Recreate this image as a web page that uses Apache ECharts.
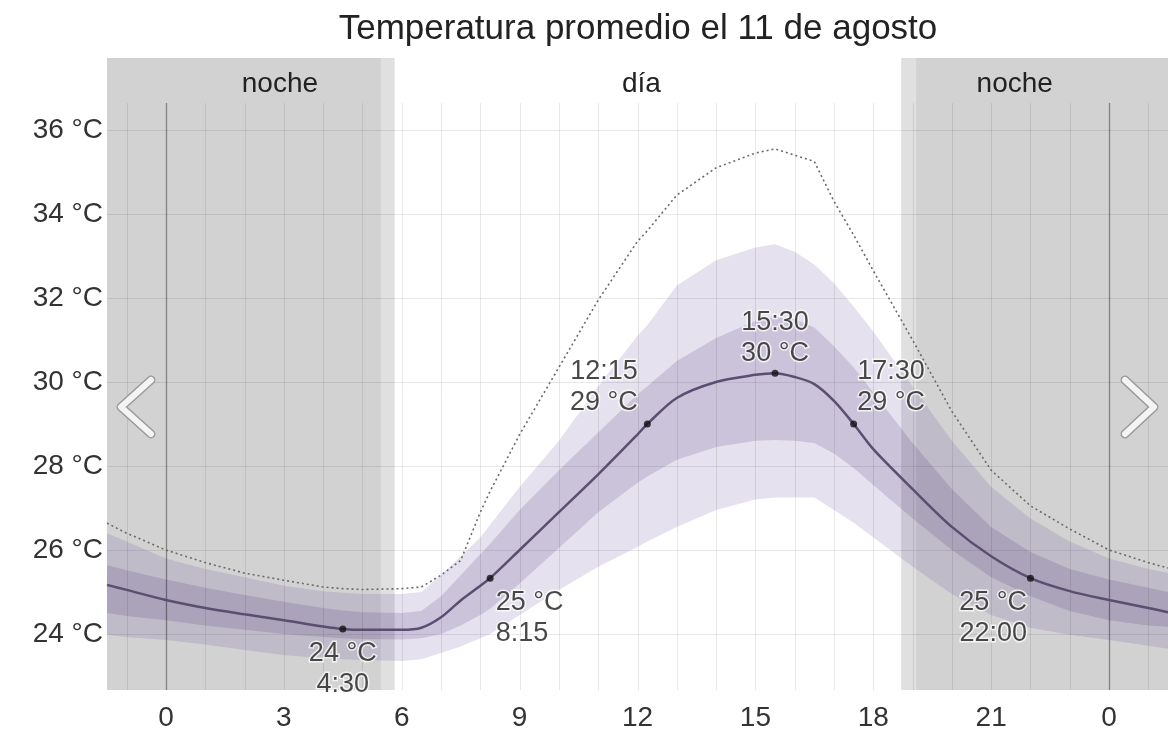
<!DOCTYPE html>
<html>
<head>
<meta charset="utf-8">
<script src="https://cdn.jsdelivr.net/npm/echarts@6/dist/echarts.min.js"></script>
<style>
html, body { margin: 0; padding: 0; background: #fff; }
#main { width: 1168px; height: 745px; }
</style>
</head>
<body>
<div id="main"></div>
<script>
// hour of day (values past 24 belong to the next day)
var hours   = [-1.5, -1, 0, 1, 2, 3, 4, 4.5, 5, 6, 6.5, 7, 7.5, 8, 8.25, 9, 10, 11, 12, 12.25, 13, 14, 15, 15.5, 16, 16.5, 17, 17.5, 18, 19, 20, 21, 22, 23, 24, 25, 25.5];
var median  = [25.17, 25.05, 24.81, 24.62, 24.47, 24.33, 24.18, 24.12, 24.1, 24.1, 24.15, 24.4, 24.8, 25.15, 25.33, 26.0, 26.9, 27.8, 28.75, 29.0, 29.62, 30.0, 30.17, 30.21, 30.12, 29.95, 29.55, 29.0, 28.4, 27.45, 26.55, 25.85, 25.33, 25.02, 24.81, 24.62, 24.52];
var p75     = [25.64, 25.52, 25.3, 25.1, 24.93, 24.77, 24.62, 24.56, 24.52, 24.5, 24.55, 24.9, 25.4, 25.9, 26.15, 26.95, 27.9, 28.8, 29.7, 29.9, 30.5, 31.05, 31.45, 31.55, 31.5, 31.3, 30.85, 30.35, 29.75, 28.55, 27.45, 26.55, 25.95, 25.55, 25.3, 25.1, 25.0];
var p25     = [24.5, 24.43, 24.33, 24.2, 24.1, 24.0, 23.93, 23.9, 23.88, 23.87, 23.9, 24.0, 24.2, 24.45, 24.6, 25.2, 26.05, 26.9, 27.6, 27.75, 28.15, 28.45, 28.6, 28.62, 28.6, 28.55, 28.3, 27.95, 27.55, 26.75, 26.0, 25.35, 24.9, 24.55, 24.33, 24.2, 24.17];
var p90     = [26.4, 26.2, 25.8, 25.55, 25.35, 25.15, 25.02, 24.98, 24.95, 24.95, 25.0, 25.4, 25.85, 26.3, 26.6, 27.5, 28.6, 29.9, 31.1, 31.35, 32.3, 32.9, 33.2, 33.28, 33.1, 32.8, 32.35, 31.8, 31.2, 29.9, 28.6, 27.5, 26.75, 26.2, 25.8, 25.55, 25.45];
var p10     = [23.98, 23.93, 23.86, 23.75, 23.62, 23.5, 23.42, 23.4, 23.38, 23.36, 23.4, 23.55, 23.7, 23.9, 24.0, 24.45, 25.05, 25.6, 26.07, 26.2, 26.55, 26.95, 27.2, 27.25, 27.25, 27.25, 26.95, 26.65, 26.3, 25.6, 24.95, 24.45, 24.15, 23.98, 23.86, 23.72, 23.65];
var dotted  = [26.64, 26.4, 26.0, 25.7, 25.45, 25.28, 25.12, 25.08, 25.06, 25.08, 25.12, 25.4, 25.75, 26.9, 27.4, 28.75, 30.35, 31.95, 33.35, 33.6, 34.45, 35.1, 35.45, 35.55, 35.4, 35.25, 34.3, 33.5, 32.65, 31.0, 29.3, 27.9, 27.05, 26.5, 26.0, 25.7, 25.57];

// labelled points on the median line
var markHours = [4.5, 8.25, 12.25, 15.5, 17.5, 22];
var markTemps = [24.12, 25.33, 29.0, 30.21, 29.0, 25.33];

// night / twilight spans (shade: 0 = night, 1 = twilight)
var shadeStart = [-1.5, 5.47, 18.71, 19.09];
var shadeEnd   = [5.47, 5.82, 19.09, 25.5];
var shadeKind  = [0, 1, 1, 0];

var periodNames = ['noche', 'día', 'noche'];
var periodHours = [2.9, 12.1, 21.6];

var gridHours = [-1, 0, 1, 2, 3, 4, 5, 6, 7, 8, 9, 10, 11, 12, 13, 14, 15, 16, 17, 18, 19, 20, 21, 22, 23, 24, 25];
var midnightHours = [0, 24];
var xTicks = [0, 3, 6, 9, 12, 15, 18, 21, 24];
var yTicks = [24, 26, 28, 30, 32, 34, 36];

var X_MIN = -1.5, X_MAX = 25.5;
var Y_MIN = 22.667, Y_MAX = 37.714;
var HOUR_LINE_TOP = 36.64;
var PERIOD_LABEL_Y = 37.1;

var FONT = '"Liberation Sans", Arial, sans-serif';

function pairs(ys) {
    return hours.map(function (h, i) { return [h, ys[i]]; });
}

function fmtTime(h) {
    var hh = Math.floor(h), mm = Math.round((h - hh) * 60);
    return hh + ':' + (mm < 10 ? '0' : '') + mm;
}

function band(lower, upper, color, z) {
    return {
        type: 'custom', z: z, silent: true,
        data: [[hours[0], lower[0]]],
        renderItem: function (params, api) {
            var pts = [], i;
            for (i = 0; i < hours.length; i++) pts.push(api.coord([hours[i], upper[i]]));
            for (i = hours.length - 1; i >= 0; i--) pts.push(api.coord([hours[i], lower[i]]));
            return { type: 'polygon', shape: { points: pts }, style: { fill: color } };
        }
    };
}

var labelPlace = [
    { position: [3.5, 13], align: 'center', verticalAlign: 'top', timeFirst: false },
    { position: [9, 12], align: 'left', verticalAlign: 'top', timeFirst: false },
    { position: [-6, -2], align: 'right', verticalAlign: 'bottom', timeFirst: true },
    { position: [3.5, -1], align: 'center', verticalAlign: 'bottom', timeFirst: true },
    { position: [7, -2], align: 'left', verticalAlign: 'bottom', timeFirst: true },
    { position: [0, 12], align: 'right', verticalAlign: 'top', timeFirst: false }
];

var markData = markHours.map(function (h, i) {
    var p = labelPlace[i];
    var t = Math.round(markTemps[i]) + ' °C', tm = fmtTime(h);
    return {
        value: [h, markTemps[i]],
        label: {
            show: true,
            formatter: p.timeFirst ? tm + '\n' + t : t + '\n' + tm,
            position: p.position, align: p.align, verticalAlign: p.verticalAlign
        }
    };
});

var chart = echarts.init(document.getElementById('main'));
chart.setOption({
    animation: false,
    backgroundColor: '#fff',
    title: {
        text: 'Temperatura promedio el 11 de agosto',
        left: 633, top: 7, textAlign: 'center',
        textStyle: { fontFamily: FONT, fontSize: 35, fontWeight: 'normal', color: '#222' }
    },
    grid: { left: 107, right: 0, top: 58, bottom: 55, containLabel: false },
    xAxis: {
        type: 'value', min: X_MIN, max: X_MAX,
        axisLine: { show: false }, axisTick: { show: false },
        splitLine: { show: false },
        axisLabel: {
            customValues: xTicks, margin: 14,
            formatter: function (v) { return String(v % 24); },
            fontFamily: FONT, fontSize: 28, color: '#333'
        }
    },
    yAxis: {
        type: 'value', min: Y_MIN, max: Y_MAX,
        axisLine: { show: false },
        axisTick: { show: false, customValues: yTicks },
        axisLabel: {
            customValues: yTicks, margin: 4,
            formatter: function (v) { return v + ' °C'; },
            fontFamily: FONT, fontSize: 28, color: '#333'
        },
        splitLine: { show: true, lineStyle: { color: 'rgba(0,0,0,0.09)', width: 1 } }
    },
    graphic: [
        { type: 'polyline', z: 100, shape: { points: [[151, 380], [121, 407], [151, 434]] },
          style: { stroke: '#9a9a9a', lineWidth: 9, lineCap: 'round', lineJoin: 'round', fill: null } },
        { type: 'polyline', z: 101, shape: { points: [[151, 380], [121, 407], [151, 434]] },
          style: { stroke: '#f4f4f4', lineWidth: 6, lineCap: 'round', lineJoin: 'round', fill: null } },
        { type: 'polyline', z: 100, shape: { points: [[1125, 380], [1154, 407], [1125, 434]] },
          style: { stroke: '#9a9a9a', lineWidth: 9, lineCap: 'round', lineJoin: 'round', fill: null } },
        { type: 'polyline', z: 101, shape: { points: [[1125, 380], [1154, 407], [1125, 434]] },
          style: { stroke: '#f4f4f4', lineWidth: 6, lineCap: 'round', lineJoin: 'round', fill: null } }
    ],
    series: [
        {
            // night and twilight shading
            type: 'custom', z: 1, silent: true,
            data: shadeStart.map(function (s, i) { return [s, Y_MIN, shadeEnd[i], shadeKind[i]]; }),
            encode: { x: [0, 2], y: 1 },
            renderItem: function (params, api) {
                var a = api.coord([api.value(0), Y_MAX]);
                var b = api.coord([api.value(2), Y_MIN]);
                return {
                    type: 'rect',
                    shape: { x: a[0], y: a[1], width: b[0] - a[0], height: b[1] - a[1] },
                    style: { fill: api.value(3) === 0 ? 'rgba(0,0,0,0.175)' : 'rgba(0,0,0,0.12)' }
                };
            }
        },
        band(p10, p90, 'rgba(100,70,150,0.16)', 2),
        band(p25, p75, 'rgba(70,50,110,0.17)', 2),
        {
            // hourly vertical grid lines
            type: 'custom', z: 3, silent: true,
            data: gridHours.map(function (h) { return [h, Y_MIN]; }),
            renderItem: function (params, api) {
                var h = api.value(0);
                var a = api.coord([h, Y_MIN]), b = api.coord([h, HOUR_LINE_TOP]);
                var mid = midnightHours.indexOf(h) >= 0;
                return {
                    type: 'line',
                    shape: { x1: Math.round(a[0]) + 0.5, y1: a[1], x2: Math.round(b[0]) + 0.5, y2: b[1] },
                    style: { stroke: mid ? 'rgba(0,0,0,0.38)' : 'rgba(0,0,0,0.09)', lineWidth: mid ? 1.3 : 1 }
                };
            }
        },
        {
            type: 'line', z: 4, silent: true, symbol: 'none',
            data: pairs(dotted),
            lineStyle: { color: '#6a6a6a', width: 1.6, type: [2, 3] }
        },
        {
            type: 'line', z: 5, silent: true, symbol: 'none', smooth: 0.3,
            data: pairs(median),
            lineStyle: { color: '#5b4e73', width: 2.5 }
        },
        {
            type: 'scatter', z: 6, silent: true,
            symbol: 'circle', symbolSize: 7,
            itemStyle: { color: '#111' },
            label: {
                fontFamily: FONT, fontSize: 27, lineHeight: 31, color: '#1a1a1a',
                textBorderColor: 'rgba(255,255,255,0.9)', textBorderWidth: 3
            },
            data: markData
        },
        {
            type: 'custom', z: 6, silent: true,
            data: periodHours.map(function (h, i) { return [h, PERIOD_LABEL_Y, i]; }),
            renderItem: function (params, api) {
                var p = api.coord([api.value(0), api.value(1)]);
                return {
                    type: 'text',
                    style: {
                        x: p[0], y: p[1], text: periodNames[api.value(2)],
                        align: 'center', verticalAlign: 'middle',
                        font: '28px ' + FONT, fill: '#222'
                    }
                };
            }
        }
    ]
});
</script>
</body>
</html>
